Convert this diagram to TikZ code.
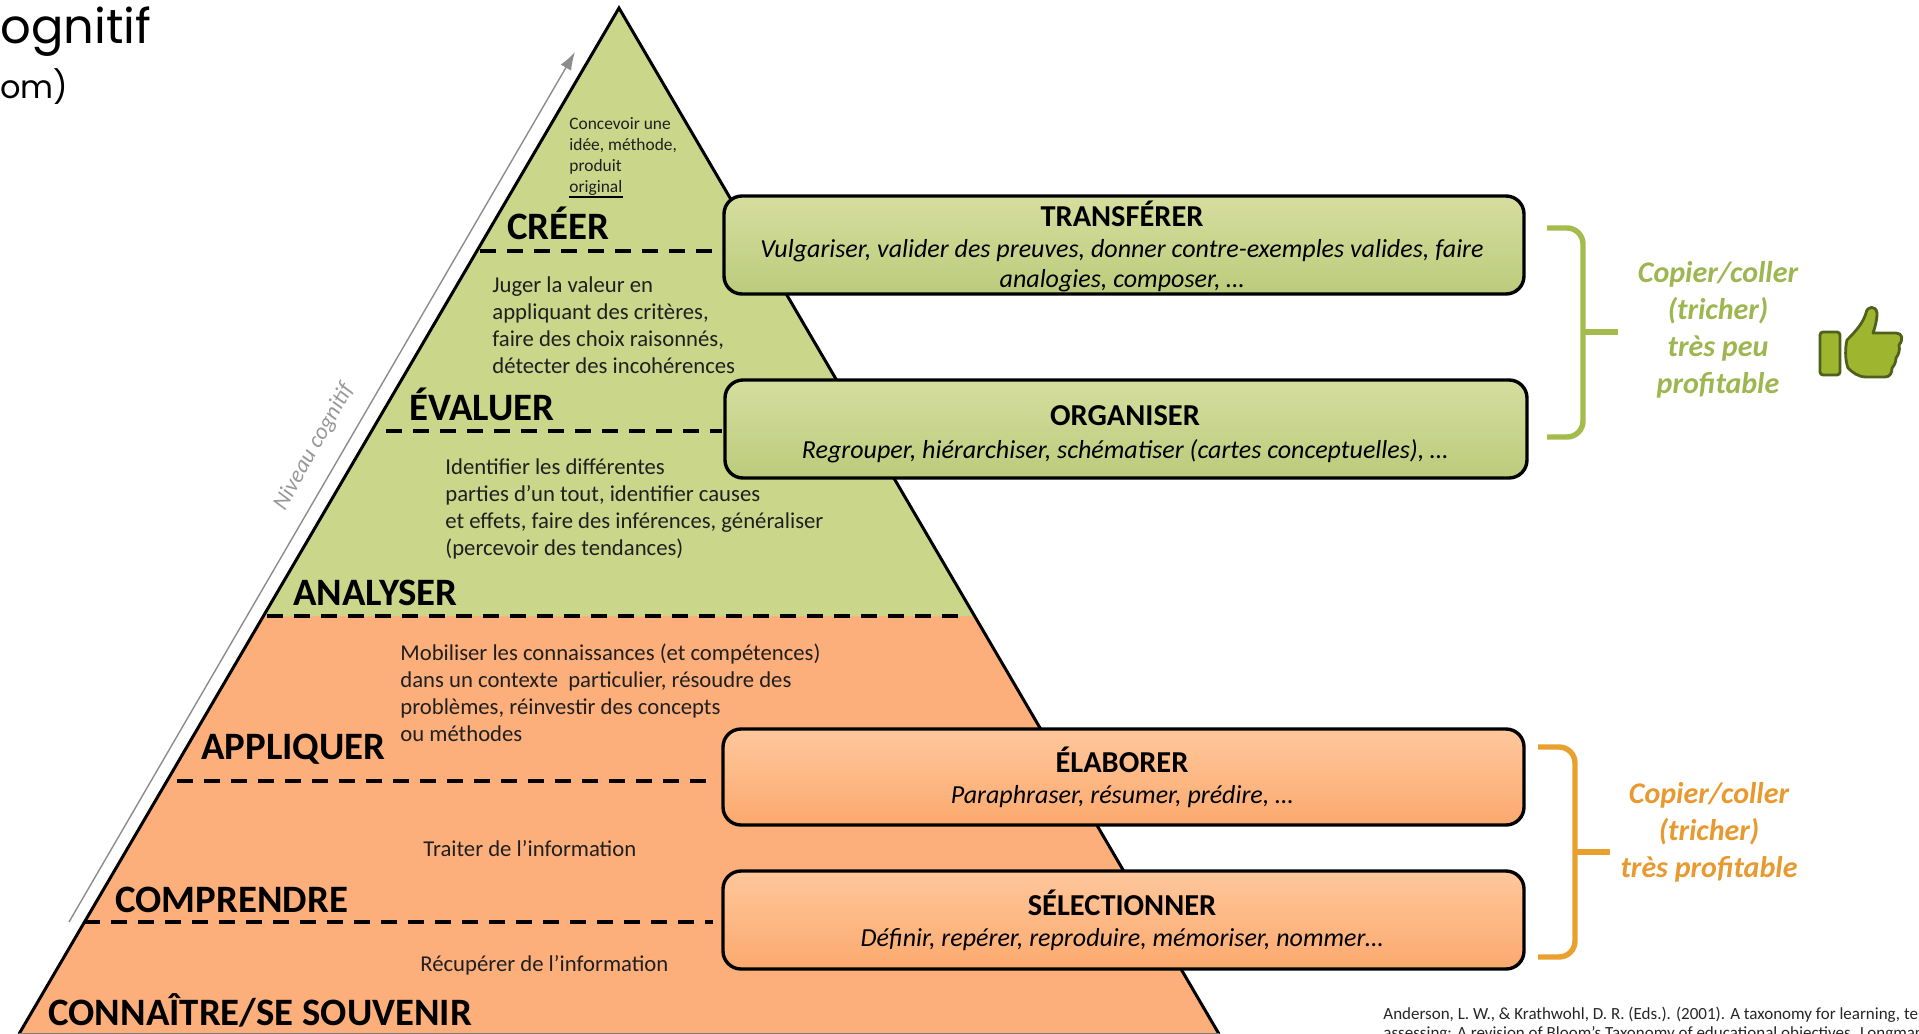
\documentclass[tikz,border=0pt]{standalone}
\usepackage{fontspec}
\usetikzlibrary{arrows.meta}
\setmainfont{Carlito}
\newfontfamily\titlefont{Poppins}
\definecolor{pgreen}{HTML}{CAD68A}
\definecolor{porange}{HTML}{FDAF7B}
\definecolor{gtop}{HTML}{D6DE9F}
\definecolor{gbot}{HTML}{BBCB7B}
\definecolor{otop}{HTML}{FFC79C}
\definecolor{obot}{HTML}{FBA96E}
\definecolor{bgreen}{HTML}{A3BC4C}
\definecolor{borange}{HTML}{E9A02F}
\definecolor{tgreen}{HTML}{9DB64F}
\definecolor{torange}{HTML}{E8992F}
\definecolor{thumbfill}{HTML}{9DB52F}
\definecolor{thumbline}{HTML}{50601C}
\tikzset{
 x=0.5pt,y=-0.5pt,
 dashline/.style={line width=1.7pt,dash pattern=on 8pt off 5.5pt,black},
 level/.style={anchor=west,font=\fontsize{19.4}{22}\selectfont\bfseries,inner sep=0pt},
 desc/.style={anchor=north west,align=left,font=\fontsize{11.35}{13.5}\selectfont,inner sep=0pt,text=black!88},
 gbox/.style={rounded corners=9pt,draw=black,line width=1.7pt,top color=gtop,bottom color=gbot},
 obox/.style={rounded corners=9pt,draw=black,line width=1.7pt,top color=otop,bottom color=obot},
 boxhead/.style={font=\fontsize{15.2}{18}\selectfont\bfseries,inner sep=0pt},
 boxtext/.style={font=\fontsize{13}{15}\selectfont\itshape,align=center,inner sep=0pt},
 side/.style={font=\fontsize{15}{18.5}\selectfont\bfseries\itshape,align=center,inner sep=0pt},
 cite/.style={anchor=west,inner sep=0pt,font=\fontsize{8.5}{10}\selectfont,text=black!85},
}
\begin{document}
\begin{tikzpicture}
\useasboundingbox (0,0) rectangle (1919,1034);
\clip (0,0) rectangle (1919,1034);
\fill[white] (0,0) rectangle (1919,1034);
% title
\node[anchor=base west,inner sep=0pt,font=\titlefont\fontsize{24}{28}\selectfont] (t1) at (0,43) {ognitif};
\node[anchor=base west,inner sep=0pt,font=\titlefont\fontsize{16}{20}\selectfont] (t2) at (0,98) {om)};
% pyramid
\coordinate (apex) at (619,8);
\coordinate (bl) at (19,1034);
\coordinate (br) at (1219,1034);
\coordinate (ml) at (263,616);
\coordinate (mr) at (974,616);
\fill[porange] (ml) -- (mr) -- (br) -- (bl) -- cycle;
\fill[pgreen] (apex) -- (mr) -- (ml) -- cycle;
\draw[black,line width=1.5pt,line join=miter] (bl) -- (apex) -- (br);
\draw[black!50,line width=0.8pt] (bl) -- (br);
% niveau arrow
\coordinate (a1) at (69,922);
\coordinate (a2) at (575,52);
\draw[black!45,line width=0.7pt,-{Latex[length=9pt,width=6pt]}] (a1) -- (a2);
\node[rotate=60.7,text=black!40,inner sep=0pt,font=\fontsize{11.5}{14}\selectfont\itshape] (niv) at (314,447) {Niveau cognitif};
% dashed lines
\coordinate (d1a) at (480,251); \coordinate (d1b) at (722,251);
\coordinate (d2a) at (386,431); \coordinate (d2b) at (722,431);
\coordinate (d3a) at (267,616); \coordinate (d3b) at (966,616);
\coordinate (d4a) at (177,781); \coordinate (d4b) at (713,781);
\coordinate (d5a) at (84,922); \coordinate (d5b) at (713,922);
\foreach \p in {1,...,5} {\draw[dashline] (d\p a) -- (d\p b);}
% level labels
\node[level] (l1) at (507,223) {CRÉER};
\node[level] (l2) at (409,404) {ÉVALUER};
\node[level] (l3) at (293,593) {ANALYSER};
\node[level] (l4) at (201,749) {APPLIQUER};
\node[level] (l5) at (115,900) {COMPRENDRE};
\node[level] (l6) at (48,1010) {CONNAÎTRE/SE SOUVENIR};
% descriptions
\node[desc,font=\fontsize{8.7}{10.5}\selectfont] (p1) at (569,117) {Concevoir une\\idée, méthode,\\produit\\original};
\coordinate (u1) at (569,197); \coordinate (u2) at (623,197);
\draw[black,line width=1pt] (u1) -- (u2);
\node[desc] (p2) at (492,276) {Juger la valeur en\\appliquant des critères,\\faire des choix raisonnés,\\détecter des incohérences};
\node[desc] (p3) at (445,458) {Identifier les différentes\\parties d’un tout, identifier causes\\et effets, faire des inférences, généraliser\\(percevoir des tendances)};
\node[desc] (p4) at (400,643) {Mobiliser les connaissances (et compétences)\\dans un contexte\ \ particulier, résoudre des\\problèmes, réinvestir des concepts\\ou méthodes};
\node[desc] (p5) at (423,840) {Traiter de l’information};
\node[desc] (p6) at (420,955) {Récupérer de l’information};
% boxes
\draw[gbox] (724,196) rectangle (1524,294);
\draw[gbox] (725,380) rectangle (1527,478);
\draw[obox] (723,729) rectangle (1524,825);
\draw[obox] (723,871) rectangle (1524,969);
\node[boxhead] (b1) at (1122,214) {TRANSFÉRER};
\node[boxtext] (b1t) at (1122,251) {Vulgariser, valider des preuves, donner contre-exemples valides, faire};
\node[boxtext] (b1u) at (1122,281) {analogies, composer, …};
\node[boxhead] (b2) at (1125,416) {ORGANISER};
\node[boxtext] (b2t) at (1125,451) {Regrouper, hiérarchiser, schématiser (cartes conceptuelles), …};
\node[boxhead] (b3) at (1122,760) {ÉLABORER};
\node[boxtext] (b3t) at (1122,797) {Paraphraser, résumer, prédire, …};
\node[boxhead] (b4) at (1122,903) {SÉLECTIONNER};
\node[boxtext] (b4t) at (1122,940) {Définir, repérer, reproduire, mémoriser, nommer…};
% brackets
\draw[bgreen,line width=2.7pt,rounded corners=8pt] (1547,228) -- (1583,228) -- (1583,437) -- (1547,437);
\draw[bgreen,line width=2.7pt] (1583,332) -- (1618,332);
\draw[borange,line width=2.7pt,rounded corners=8pt] (1538,747) -- (1575,747) -- (1575,957) -- (1538,957);
\draw[borange,line width=2.7pt] (1575,852) -- (1610,852);
% side text
\node[side,text=tgreen] (s1) at (1718,330) {Copier/coller\\(tricher)\\très peu\\profitable};
\node[side,text=torange] (s2) at (1709,832) {Copier/coller\\(tricher)\\très profitable};
% thumb
\draw[fill=thumbfill,draw=thumbline,line width=1.4pt,rounded corners=1.5pt] (1820,332) rectangle (1840,375);
\draw[fill=thumbfill,draw=thumbline,line width=1.4pt,line join=round]
 (1847,340) .. controls (1856,331) and (1863,323) .. (1866,313)
 .. controls (1867,306) and (1876,305) .. (1877,313)
 .. controls (1877,321) and (1875,327) .. (1873,333)
 -- (1896,333) .. controls (1902,333) and (1904,339) .. (1899,345)
 .. controls (1900,350) and (1899,354) .. (1896,358)
 .. controls (1896,362) and (1894,366) .. (1892,368)
 .. controls (1892,373) and (1890,377) .. (1885,377)
 -- (1866,377) .. controls (1858,377) and (1852,372) .. (1848,368)
 .. controls (1845,360) and (1845,348) .. (1847,340) -- cycle;
% citation
\node[cite] (c1) at (1383,1015) {Anderson, L. W., \& Krathwohl, D. R. (Eds.). (2001). A taxonomy for learning, te};
\node[cite] (c2) at (1383,1034) {assessing: A revision of Bloom’s Taxonomy of educational objectives. Longman};
\end{tikzpicture}
\end{document}
